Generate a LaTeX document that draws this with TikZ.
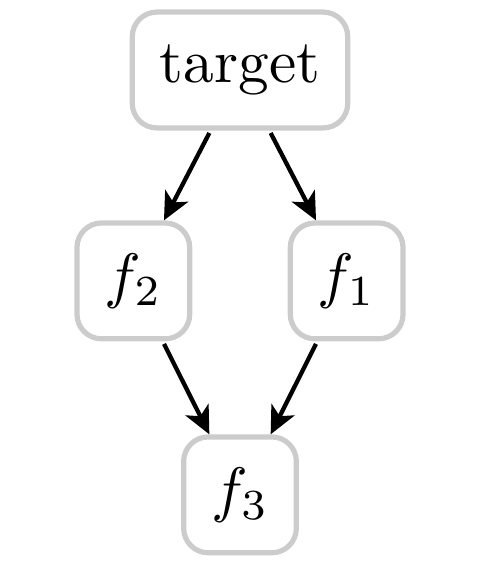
\documentclass[tikz,border=0pt]{standalone}
\usepackage{amsmath}
\usepackage{tikz}
\usetikzlibrary{
	arrows.meta,						% Advanced arrows
	calc								% Calculate point coordinates
}

\begin{document}
\begin{tikzpicture}
		\tikzstyle{fun} = [draw=gray!40, line width=0.85pt, rounded corners=4pt, minimum height=18.9pt, minimum width=18.3pt, inner xsep=4.5pt, inner ysep=4pt]
		\tikzstyle{dep} = [-{Stealth[length=4.5pt, width=4.2pt, inset=1.2pt]}, line width=0.7pt]
		\useasboundingbox (-39.15pt, 11.42pt) rectangle (38.95pt, -82.7pt);
		
		% Nodes
		\node[fun] at (0, 0) (target) {target};
		\node[fun] at (-17.4pt, -34.4pt) (fTwo) {$f_2$};
		\node[fun] at (17.4pt, -34.4pt) (fOne) {$f_1$};
		\node[fun] at (0, -69.3pt) (fThree) {$f_3$};
		
		% Dependencies
		\draw[dep] ($(target.south) + (-5pt, -0.4pt)$) to ($(fTwo.north) + (5pt, 0)$);
		\draw[dep] ($(target.south) + (5pt, -0.4pt)$) to ($(fOne.north) + (-5pt, 0)$);
		\draw[dep] ($(fTwo.south) + (5pt, -0.4pt)$) to ($(fThree.north) + (-5pt, 0)$);
		\draw[dep] ($(fOne.south) + (-5pt, -0.4pt)$) to ($(fThree.north) + (5pt, 0)$);
	\end{tikzpicture}
\end{document}
